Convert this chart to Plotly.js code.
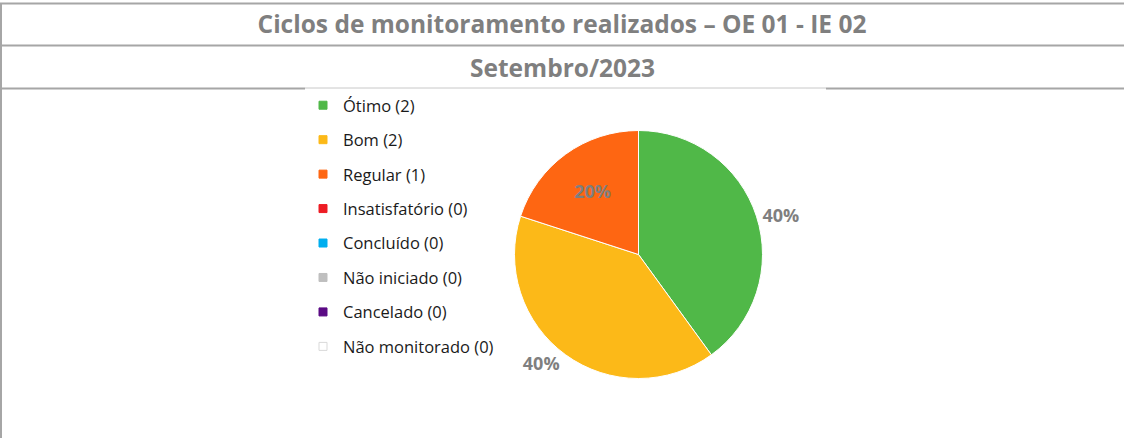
<!DOCTYPE html>
<html>
<head>
<meta charset="utf-8">
<script src="https://cdn.plot.ly/plotly-3.0.1.min.js"></script>
<style>
  html, body { margin: 0; padding: 0; background: #ffffff; }
  #chart { width: 1124px; height: 438px; }
</style>
</head>
<body>
<div id="chart"></div>
<script>
// ---- data ----
const titleLine1 = "Ciclos de monitoramento realizados – OE 01 - IE 02";
const titleLine2 = "Setembro/2023";
const categories = ["Ótimo", "Bom", "Regular", "Insatisfatório", "Concluído", "Não iniciado", "Cancelado", "Não monitorado"];
const counts = [2, 2, 1, 0, 0, 0, 0, 0];
const colors = ["#50b848", "#fcb918", "#fe6612", "#ed1c24", "#00aeef", "#bfbfbf", "#5b0a84", "#ffffff"];
const labelPositions = ["outside", "outside", "inside", "none", "none", "none", "none", "none"];

// ---- helpers ----
const W = 1124, H = 438;
const px = x => x / W;
const py = y => 1 - y / H;

const legendNames = categories.map((c, i) => c + " (" + counts[i] + ")");
const labelFont = { family: "Open Sans, sans-serif", size: 18, color: "#7f7f7f", weight: "bold" };

const traces = [];
traces.push({
  type: "pie",
  labels: categories,
  values: counts,
  sort: false,
  direction: "clockwise",
  rotation: 0,
  showlegend: false,
  marker: { colors: colors, line: { color: "#ffffff", width: 1 } },
  texttemplate: "%{percent:.0%}",
  textinfo: "percent",
  textposition: labelPositions,
  textfont: labelFont,
  insidetextfont: labelFont,
  outsidetextfont: labelFont,
  domain: { x: [px(514.5), px(762.5)], y: [py(378.5), py(130.5)] },
  hoverinfo: "label+value+percent"
});

categories.forEach((c, i) => {
  traces.push({
    type: "scatter",
    mode: "markers",
    x: [null], y: [null],
    name: legendNames[i],
    legendgroup: "g" + i,
    marker: { symbol: "square", size: 8, color: colors[i],
              line: { color: i === categories.length - 1 ? "#d9d9d9" : colors[i], width: 1 } },
    hoverinfo: "skip"
  });
});

const lineColor = "#a6a6a6";
const shapes = [
  { type: "line", xref: "paper", yref: "paper", x0: 0, x1: 1, y0: py(3.5), y1: py(3.5), line: { color: lineColor, width: 2 } },
  { type: "line", xref: "paper", yref: "paper", x0: 0, x1: 1, y0: py(45.5), y1: py(45.5), line: { color: lineColor, width: 2 } },
  { type: "line", xref: "paper", yref: "paper", x0: 0, x1: px(305), y0: py(88.5), y1: py(88.5), line: { color: lineColor, width: 2 } },
  { type: "line", xref: "paper", yref: "paper", x0: px(305), x1: px(826), y0: py(88), y1: py(88), line: { color: "#c8c8c8", width: 1 } },
  { type: "line", xref: "paper", yref: "paper", x0: px(826), x1: 1, y0: py(88.5), y1: py(88.5), line: { color: lineColor, width: 2 } },
  { type: "line", xref: "paper", yref: "paper", x0: px(1), x1: px(1), y0: py(3), y1: 0, line: { color: lineColor, width: 2 } }
];

const layout = {
  width: W, height: H,
  margin: { l: 0, r: 0, t: 0, b: 0 },
  paper_bgcolor: "#ffffff",
  plot_bgcolor: "#ffffff",
  font: { family: "Open Sans, sans-serif", color: "#000000" },
  xaxis: { visible: false },
  yaxis: { visible: false },
  title: {
    text: titleLine1,
    x: 0.5, xanchor: "center",
    y: py(24), yanchor: "middle",
    xref: "paper", yref: "paper",
    font: { family: "Open Sans, sans-serif", size: 24.5, color: "#7f7f7f", weight: "bold" }
  },
  annotations: [{
    text: titleLine2,
    xref: "paper", yref: "paper",
    x: 0.5, y: py(67), xanchor: "center", yanchor: "middle",
    showarrow: false,
    font: { family: "Open Sans, sans-serif", size: 24.5, color: "#7f7f7f", weight: "bold" }
  }],
  shapes: shapes,
  showlegend: true,
  legend: {
    x: px(303), y: py(88), xanchor: "left", yanchor: "top",
    font: { family: "Open Sans, sans-serif", size: 16.5, color: "#1a1a1a" },
    tracegroupgap: 10,
    itemwidth: 30,
    bgcolor: "rgba(0,0,0,0)"
  }
};

Plotly.newPlot("chart", traces, layout, { displayModeBar: false, staticPlot: true });
</script>
</body>
</html>
